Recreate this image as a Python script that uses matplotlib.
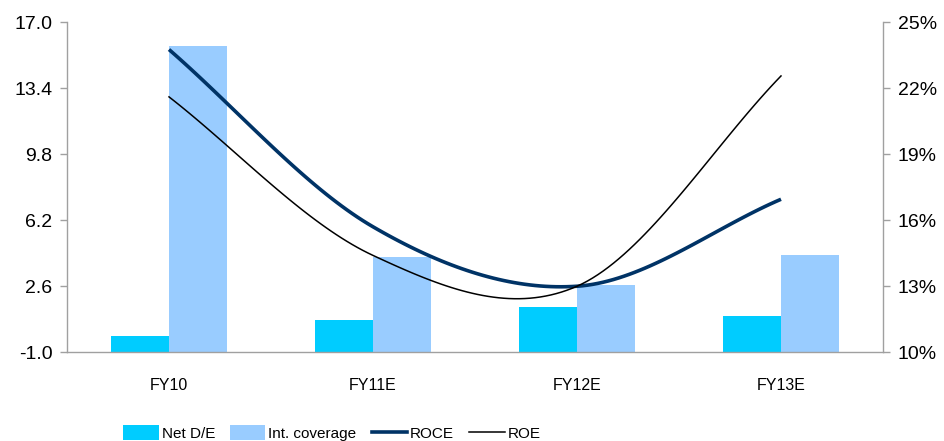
import numpy as np
import matplotlib
matplotlib.use("Agg")
import matplotlib.pyplot as plt
from matplotlib.patches import Patch
from matplotlib.lines import Line2D

# Data
categories = ["FY10", "FY11E", "FY12E", "FY13E"]
net_de = [-0.1, 0.75, 1.45, 1.0]
int_coverage = [15.7, 4.2, 2.65, 4.3]
roce = [23.75, 15.7, 13.0, 16.95]   # %
roe = [21.6, 14.4, 13.0, 22.55]     # %

left_ticks = [-1.0, 2.6, 6.2, 9.8, 13.4, 17.0]
right_ticks = [10, 13, 16, 19, 22, 25]

C_NDE = "#00CCFF"
C_INT = "#99CCFF"
C_ROCE = "#003366"
C_ROE = "#000000"
C_AXIS = "#A0A0A0"

FONT = "Liberation Sans"


def smooth(xs, ys, n=40):
    """Bezier smoothing through the points, with reflected phantom end points."""
    xs = np.asarray(xs, float)
    ys = np.asarray(ys, float)
    px = np.concatenate([[2 * xs[0] - xs[1]], xs, [2 * xs[-1] - xs[-2]]])
    py = np.concatenate([[2 * ys[0] - ys[1]], ys, [2 * ys[-1] - ys[-2]]])
    out_x, out_y = [], []
    t = np.linspace(0, 1, n)
    for i in range(1, len(xs)):
        p0 = np.array([px[i], py[i]])
        p3 = np.array([px[i + 1], py[i + 1]])
        c1 = p0 + (p3 - np.array([px[i - 1], py[i - 1]])) / 6
        c2 = p3 - (np.array([px[i + 2], py[i + 2]]) - p0) / 6
        bx = (1 - t) ** 3 * p0[0] + 3 * (1 - t) ** 2 * t * c1[0] + 3 * (1 - t) * t ** 2 * c2[0] + t ** 3 * p3[0]
        by = (1 - t) ** 3 * p0[1] + 3 * (1 - t) ** 2 * t * c1[1] + 3 * (1 - t) * t ** 2 * c2[1] + t ** 3 * p3[1]
        out_x.extend(bx if i == 1 else bx[1:])
        out_y.extend(by if i == 1 else by[1:])
    return np.array(out_x), np.array(out_y)


fig = plt.figure(figsize=(9.44, 4.41), dpi=100)
W, H = 944, 441
ax = fig.add_axes([67 / W, 1 - 352.3 / H, (883 - 67) / W, (352.3 - 22) / H])
ax2 = ax.twinx()

x = np.arange(len(categories))
bw = 0.285
base = left_ticks[0]
ax.bar(x - bw / 2, np.array(net_de) - base, bw, bottom=base, color=C_NDE, zorder=2)
ax.bar(x + bw / 2, np.array(int_coverage) - base, bw, bottom=base, color=C_INT, zorder=2)

sx, sy = smooth(x, roce)
ax2.plot(sx, sy, color=C_ROCE, lw=2.6, solid_capstyle="butt", zorder=3)
sx, sy = smooth(x, roe)
ax2.plot(sx, sy, color=C_ROE, lw=1.1, zorder=3)

ax.set_xlim(-0.5, len(categories) - 0.5)
ax.set_ylim(left_ticks[0], left_ticks[-1])
ax2.set_ylim(right_ticks[0], right_ticks[-1])

ax.set_yticks(left_ticks)
ax.set_yticklabels([f"{v:.1f}" for v in left_ticks], fontfamily=FONT, fontsize=14)
ax2.set_yticks(right_ticks)
ax2.set_yticklabels([f"{v:.0f}%" for v in right_ticks], fontfamily=FONT, fontsize=14)
ax.set_xticks(x)
ax.set_xticklabels(categories, fontfamily=FONT, fontsize=11.5)

ax.tick_params(axis="x", length=0, pad=18.5)
ax.tick_params(axis="y", length=5, width=1, color=C_AXIS, pad=5.5)
ax2.tick_params(axis="y", length=5, width=1, color=C_AXIS, pad=5.5)

for a in (ax, ax2):
    a.spines["top"].set_visible(False)
    for s in ("left", "right", "bottom"):
        a.spines[s].set_color(C_AXIS)
        a.spines[s].set_linewidth(1.0)
ax2.spines["left"].set_visible(False)
ax2.spines["bottom"].set_visible(False)
ax.spines["right"].set_visible(False)

handles = [
    Patch(facecolor=C_NDE, edgecolor="none"),
    Patch(facecolor=C_INT, edgecolor="none"),
    Line2D([], [], color=C_ROCE, lw=2.6),
    Line2D([], [], color=C_ROE, lw=1.1),
]
labels = ["Net D/E", "Int. coverage", "ROCE", "ROE"]
fig.legend(handles, labels, loc="center", bbox_to_anchor=(332 / W, 1 - 433 / H),
           ncol=4, frameon=False, handlelength=2.3, handleheight=1.1,
           handletextpad=0.2, columnspacing=1.0,
           prop={"family": FONT, "size": 11})

fig.savefig("out.png", dpi=100)
